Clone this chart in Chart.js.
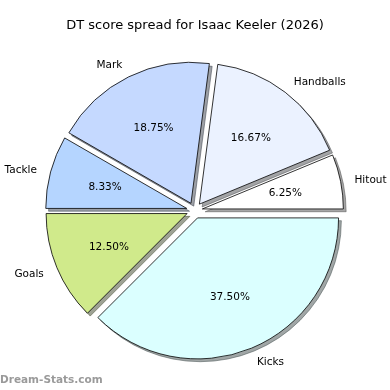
<!DOCTYPE html>
<html>
<head>
<meta charset="utf-8">
<script src="https://cdn.jsdelivr.net/npm/chart.js@4.4.1/dist/chart.umd.min.js"></script>
<style>
  html, body { margin: 0; padding: 0; background: #fff; }
  #pie { display: block; }
</style>
</head>
<body>
<canvas id="pie" width="390" height="390"></canvas>
<script>
// DT points per stat, in matplotlib order (counter-clockwise from 3 o'clock)
const categories = ['Hitout', 'Handballs', 'Mark', 'Tackle', 'Goals', 'Kicks'];
const points = [3, 8, 9, 4, 6, 18];
const sliceColors = ['#ffffff', '#ebf2ff', '#c5d9ff', '#b5d5ff', '#d0ea8b', '#dbffff'];

const titleText = 'DT score spread for Isaac Keeler (2026)';
const watermark = 'Dream-Stats.com';
const FONT = '"DejaVu Sans", sans-serif';

const total = points.reduce((a, b) => a + b, 0);

// chart.js goes clockwise, so flip the order to get the same layout
const labels = categories.slice().reverse();
const values = points.slice().reverse();
const colors = sliceColors.slice().reverse();

const EXPLODE = 8;   // px each wedge is pushed out
const SHADOW = 2.8;  // px shadow offset

function shadowColor(hex) {
  const n = parseInt(hex.slice(1), 16);
  const r = Math.round(((n >> 16) & 255) * 0.3);
  const g = Math.round(((n >> 8) & 255) * 0.3);
  const b = Math.round((n & 255) * 0.3);
  return `rgba(${r},${g},${b},0.5)`;
}

const explodedPie = {
  id: 'explodedPie',
  beforeDatasetDraw(chart, args) {
    const ctx = chart.ctx;
    const arcs = args.meta.data;

    // shadows first, under all wedges
    arcs.forEach((arc, i) => {
      const p = arc.getProps(['x', 'y', 'startAngle', 'endAngle', 'outerRadius'], true);
      const mid = (p.startAngle + p.endAngle) / 2;
      ctx.save();
      ctx.translate(Math.cos(mid) * EXPLODE + SHADOW, Math.sin(mid) * EXPLODE + SHADOW);
      ctx.beginPath();
      ctx.moveTo(p.x, p.y);
      ctx.arc(p.x, p.y, p.outerRadius, p.startAngle, p.endAngle);
      ctx.closePath();
      ctx.fillStyle = shadowColor(colors[i]);
      ctx.strokeStyle = shadowColor(colors[i]);
      ctx.lineWidth = 1;
      ctx.fill();
      ctx.stroke();
      ctx.restore();
    });

    arcs.forEach(arc => {
      const p = arc.getProps(['startAngle', 'endAngle'], true);
      const mid = (p.startAngle + p.endAngle) / 2;
      ctx.save();
      ctx.translate(Math.cos(mid) * EXPLODE, Math.sin(mid) * EXPLODE);
      arc.draw(ctx);
      ctx.restore();
    });
    return false;
  },
  afterDraw(chart) {
    const ctx = chart.ctx;
    const meta = chart.getDatasetMeta(0);
    ctx.save();
    ctx.fillStyle = '#000';
    ctx.textBaseline = 'middle';

    meta.data.forEach((arc, i) => {
      const p = arc.getProps(['x', 'y', 'startAngle', 'endAngle', 'outerRadius'], true);
      const mid = (p.startAngle + p.endAngle) / 2;
      const c = Math.cos(mid), s = Math.sin(mid);
      const cx = p.x + c * EXPLODE, cy = p.y + s * EXPLODE + 1;

      ctx.font = '10.5px ' + FONT;
      ctx.textAlign = c > 0 ? 'left' : 'right';
      ctx.fillText(labels[i], cx + c * p.outerRadius * 1.1, cy + s * p.outerRadius * 1.1 + 0.5);

      ctx.textAlign = 'center';
      const pct = (values[i] / total * 100).toFixed(2) + '%';
      ctx.fillText(pct, cx + c * p.outerRadius * 0.6, cy + s * p.outerRadius * 0.6);
    });

    ctx.font = '13px ' + FONT;
    ctx.textAlign = 'center';
    ctx.fillText(titleText, 195, 26);

    ctx.font = 'bold 10.5px ' + FONT;
    ctx.fillStyle = '#9a9a9a';
    ctx.textAlign = 'left';
    ctx.fillText(watermark, 0, 380);
    ctx.restore();
  }
};

new Chart(document.getElementById('pie'), {
  type: 'pie',
  data: {
    labels: labels,
    datasets: [{
      data: values,
      backgroundColor: colors,
      borderColor: '#000',
      borderWidth: 0.8,
      borderJoinStyle: 'miter',
      offset: 0
    }]
  },
  options: {
    responsive: false,
    devicePixelRatio: 1,
    animation: false,
    rotation: 90,
    radius: 141,
    layout: { padding: { left: 0, right: 1, top: 31, bottom: 0 } },
    plugins: {
      legend: { display: false },
      tooltip: { enabled: false },
      title: { display: false }
    }
  },
  plugins: [explodedPie]
});
</script>
</body>
</html>
